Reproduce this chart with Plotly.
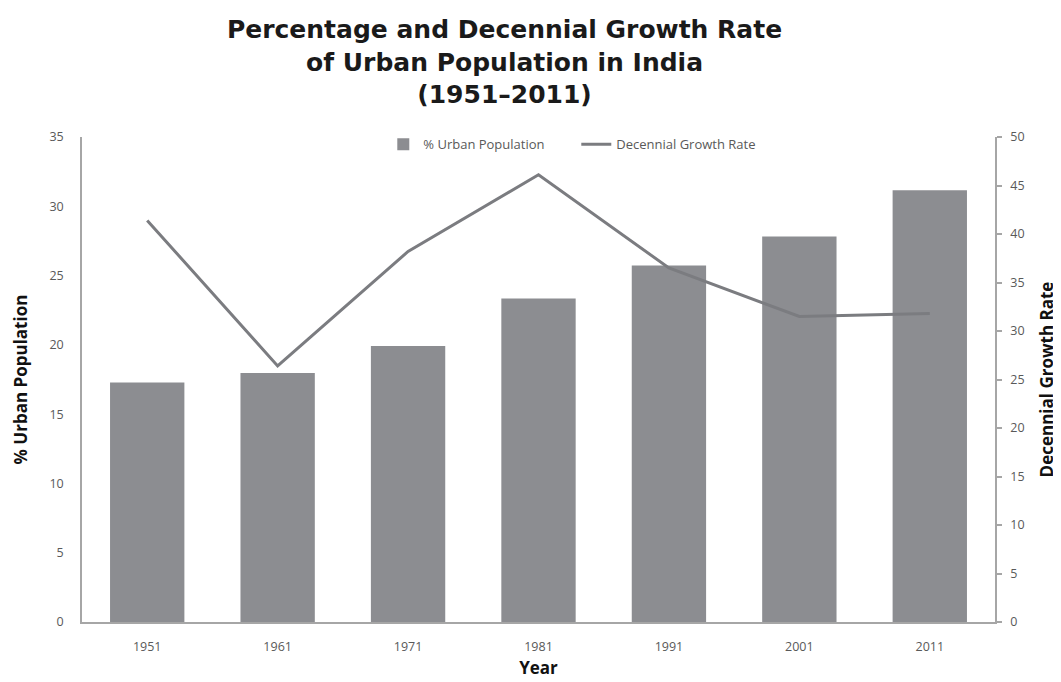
import plotly.graph_objects as go

years = ["1951", "1961", "1971", "1981", "1991", "2001", "2011"]
urban_pct = [17.29, 17.97, 19.91, 23.34, 25.72, 27.82, 31.16]
growth_rate = [41.4, 26.4, 38.2, 46.1, 36.5, 31.5, 31.8]

bar_color = "#8c8d91"
line_color = "#7b7c80"
axis_color = "#a6a6a6"
tick_font = dict(family="Open Sans", size=12.5, color="#595959")
title_font = dict(family="Open Sans", size=17, color="#111111")

fig = go.Figure()
fig.add_trace(go.Bar(
    x=years, y=urban_pct, name="% Urban Population",
    marker=dict(color=bar_color, line=dict(width=0)),
    yaxis="y",
))
fig.add_trace(go.Scatter(
    x=years, y=growth_rate, name="Decennial Growth Rate",
    mode="lines", line=dict(color=line_color, width=3),
    yaxis="y2",
))

fig.update_layout(
    width=1061, height=682,
    margin=dict(l=71, r=74, t=129, b=68),
    paper_bgcolor="white", plot_bgcolor="white",
    bargap=0.43,
    title=dict(
        text="Percentage and Decennial Growth Rate<br>of Urban Population in India<br>(1951–2011)",
        x=0.468, xanchor="center", y=0.956, yanchor="top",
        font=dict(family="DejaVu Sans", size=25, color="#1a1a1a", weight="bold"),
    ),
    showlegend=True,
    legend=dict(
        orientation="h", x=0.33, xanchor="left", y=0.985, yanchor="middle",
        font=dict(family="Open Sans", size=13, color="#595959"),
        bgcolor="rgba(0,0,0,0)", itemwidth=30, tracegroupgap=0,
        entrywidth=148, entrywidthmode="pixels",
    ),
    xaxis=dict(
        showline=True, linecolor=axis_color, linewidth=1.5,
        ticks="", tickfont=tick_font, showgrid=False,
        ticklabelstandoff=12,
        title=dict(text="<b>Year</b>", font=title_font, standoff=8),
    ),
    yaxis=dict(
        range=[0, 35], dtick=5, showline=True, linecolor=axis_color, linewidth=1.5,
        ticks="", tickfont=tick_font, showgrid=False, zeroline=False,
        ticklabelstandoff=14,
        title=dict(text="<b>% Urban Population</b>", font=title_font, standoff=18),
    ),
    yaxis2=dict(
        range=[0, 50], dtick=5, overlaying="y", side="right",
        showline=True, linecolor=axis_color, linewidth=1.5,
        ticks="outside", ticklen=5, tickcolor=axis_color, tickwidth=1.5,
        tickfont=tick_font, showgrid=False, zeroline=False,
        ticklabelstandoff=6,
        title=dict(text="<b>Decennial Growth Rate</b>", font=title_font, standoff=18),
    ),
)

fig.write_html("out.html")
